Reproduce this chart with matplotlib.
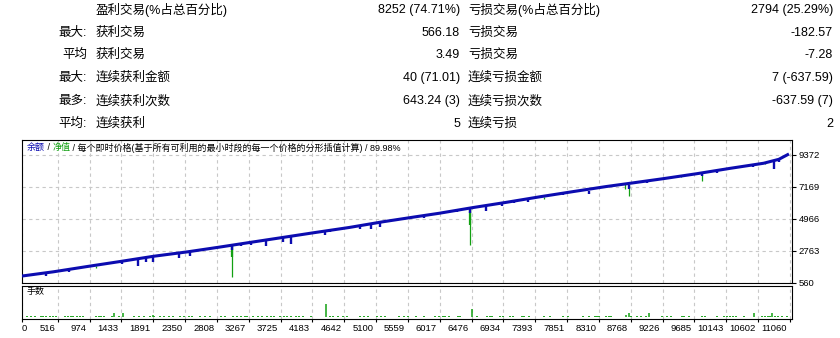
import matplotlib
matplotlib.use("Agg")
import matplotlib.pyplot as plt
import matplotlib.transforms as mtransforms

plt.rcParams['font.family'] = ['Liberation Sans', 'Noto Sans CJK SC']

BLUE = '#0c0cb0'
GREEN = '#12a012'
GRID = '#c8c8c8'

# summary table (one row per line)
row_labels = ["", "最大:", "平均", "最大:", "最多:", "平均:"]
win_names = ["盈利交易(%占总百分比)", "获利交易", "获利交易", "连续获利金额", "连续获利次数", "连续获利"]
win_values = ["8252 (74.71%)", "566.18", "3.49", "40 (71.01)", "643.24 (3)", "5"]
loss_names = ["亏损交易(%占总百分比)", "亏损交易", "亏损交易", "连续亏损金额", "连续亏损次数", "连续亏损"]
loss_values = ["2794 (25.29%)", "-182.57", "-7.28", "7 (-637.59)", "-637.59 (7)", "2"]

# balance curve (trade number, balance)
bal_trade = [0, 452, 934, 1415, 1896, 2378, 2845, 3268, 3750, 4231, 4712, 5194, 5660,
             6011, 6494, 6975, 7455, 7938, 8404, 8755, 9237, 9718, 10199, 10681, 10900, 11046]
bal_value = [1040, 1330, 1690, 2040, 2400, 2700, 3030, 3340, 3690, 4040, 4380, 4770, 5110,
             5360, 5750, 6110, 6490, 6850, 7190, 7420, 7740, 8080, 8450, 8800, 9070, 9440]

# balance drops
dip_trade = [347, 683, 1440, 1671, 1786, 1887, 2267, 2426, 3028, 3158, 3292, 3519, 3754,
             3870, 4365, 4433, 4654, 4866, 5025, 5151, 5266, 5786, 6267, 6455, 6686, 6917,
             7090, 7292, 7798, 8169, 8741, 8996, 9343, 9791, 10017, 10104, 10527, 10830, 10902]
dip_top = [1282, 1523, 2074, 2246, 2314, 2418, 2624, 2727, 3174, 3243, 3346, 3450, 3656,
           3794, 4138, 4206, 4378, 4550, 4688, 4826, 4894, 5204, 5582, 5700, 5892, 6064,
           6167, 6305, 6752, 6924, 7337, 7578, 7853, 8094, 8266, 8437, 8713, 8974, 9057]
dip_low = [1062, 1296, 1847, 1750, 1984, 1984, 2300, 2418, 2830, 3126, 3174, 3126, 3401,
           3222, 3842, 4069, 4254, 4254, 4254, 4433, 4736, 5011, 5424, 5396, 5534, 5858,
           6043, 6153, 6614, 6662, 7027, 7461, 7763, 7942, 8107, 8334, 8520, 8382, 8885]

# equity drawdown spikes
eq_trade = [1064, 2411, 3028, 6455, 7513, 8683, 8741, 9487, 9791, 10705]
eq_top = [1760, 2700, 3174, 5700, 6470, 7380, 7337, 7900, 8094, 8870]
eq_low = [1620, 2560, 993, 3174, 6340, 7027, 6566, 7832, 7598, 8727]
eq_wide_trade = [3028, 6455]
eq_wide_low = [2369, 4550]

# lots
base_lot = 0.01
base_trade = [67, 125, 188, 270, 308, 346, 404, 452, 491, 621, 659, 703, 741, 789, 837, 876,
              1068, 1102, 1136, 1174, 1295, 1391, 1608, 1680, 1762, 1848, 1906, 1993, 2050,
              2113, 2175, 2272, 2339, 2402, 2450, 2570, 2633, 2705, 2859, 2917, 3042, 3100,
              3157, 3205, 3244, 3330, 3398, 3460, 3523, 3581, 3629, 3716, 3773, 3822, 3879,
              3942, 3990, 4052, 4158, 4437, 4486, 4553, 4630, 4678, 4871, 4928, 4986, 5111,
              5169, 5232, 5434, 5496, 5554, 5675, 5796, 5955, 6012, 6060, 6099, 6157, 6277,
              6311, 6551, 6696, 6734, 6763, 6888, 6927, 7033, 7071, 7196, 7225, 7302, 7514,
              7610, 7793, 7865, 8082, 8169, 8255, 8284, 8313, 8409, 8448, 8481, 8775, 8852,
              8910, 8987, 9218, 9285, 9348, 9507, 9535, 9603, 9795, 9834, 10017, 10113, 10161,
              10200, 10238, 10286, 10402, 10662, 10700, 10739, 10768, 10845, 10893, 10951, 11018]
peak_trade = [1328, 1449, 1887, 4385, 6474, 8698, 8746, 9030, 10541, 10806]
peak_lot = [0.03, 0.03, 0.02, 0.10, 0.06, 0.02, 0.03, 0.03, 0.03, 0.03]

x_ticks = [0, 516, 974, 1433, 1891, 2350, 2808, 3267, 3725, 4183, 4642, 5100, 5559, 6017,
           6476, 6934, 7393, 7851, 8310, 8768, 9226, 9685, 10143, 10602, 11060]
y_ticks = [560, 2763, 4966, 7169, 9372]

W, H = 840, 338
fig = plt.figure(figsize=(W / 100, H / 100), dpi=100)

# summary table
row_y = [10, 33, 55, 78, 101, 124]
for i, y in enumerate(row_y):
    fy = 1 - y / H
    fig.text(87 / W, fy, row_labels[i], ha='right', va='center', fontsize=9)
    fig.text(96 / W, fy, win_names[i], ha='left', va='center', fontsize=9)
    fig.text(460 / W, fy, win_values[i], ha='right', va='center', fontsize=9)
    fig.text(468 / W, fy, loss_names[i], ha='left', va='center', fontsize=9)
    fig.text(833 / W, fy, loss_values[i], ha='right', va='center', fontsize=9)

ax = fig.add_axes([22 / W, 1 - 283 / H, 770 / W, 143 / H])
vax = fig.add_axes([22 / W, 1 - 318.5 / H, 770 / W, 32.5 / H])

# main panel
ax.vlines(eq_trade, eq_low, eq_top, color=GREEN, lw=0.9, zorder=3)
ax.vlines(eq_wide_trade, eq_wide_low, [dip_top[dip_trade.index(t)] for t in eq_wide_trade],
          color=GREEN, lw=1.6, zorder=3)
ax.vlines(dip_trade, dip_low, dip_top, color=BLUE, lw=1.7, zorder=4)
ax.plot(bal_trade, bal_value, color=BLUE, lw=2.2, zorder=5, solid_capstyle='butt')

ax.set_xlim(0, 11090)
ax.set_ylim(560, 10400)
ax.set_xticks(x_ticks)
ax.set_yticks(y_ticks)
ax.yaxis.tick_right()
ax.tick_params(axis='x', length=0, labelbottom=False)
ax.tick_params(axis='y', length=3, width=0.8, labelsize=6.8, pad=2)
ax.grid(True, color=GRID, ls=(0, (3, 3)), lw=0.8)
ax.set_axisbelow(True)
for s in ax.spines.values():
    s.set_linewidth(0.8)

# title pieces
t1 = ax.text(4.7 / 770, 1 - 7.7 / 143, "余额", color=BLUE, fontsize=6.5, va='center',
             transform=ax.transAxes)
t2 = ax.annotate(" / ", xycoords=t1, xy=(1, 0.5), va='center', fontsize=6.5)
t3 = ax.annotate("净值", xycoords=t2, xy=(1, 0.5), va='center', fontsize=6.5, color=GREEN)
ax.annotate(" / 每个即时价格(基于所有可利用的最小时段的每一个价格的分形插值计算) / 89.98%",
            xycoords=t3, xy=(1, 0.5), va='center', fontsize=6.5)

# lots panel
vax.vlines(base_trade, 0, base_lot, color=GREEN, lw=1.3)
vax.vlines(peak_trade, 0, peak_lot, color=GREEN, lw=1.1)
vax.set_xlim(0, 11090)
vax.set_ylim(-0.009, 0.238)
vax.set_yticks([])
vax.set_xticks(x_ticks)
vax.set_xticklabels([str(v) for v in x_ticks])
vax.tick_params(axis='x', length=2.5, width=0.8, labelsize=6.8, pad=1.5)
vax.grid(True, axis='x', color=GRID, ls=(0, (3, 3)), lw=0.8)
vax.set_axisbelow(True)
for s in vax.spines.values():
    s.set_linewidth(0.8)
vax.text(5 / 770, 1 - 5.5 / 32.5, "手数", fontsize=6.5, va='center', transform=vax.transAxes)

shift = mtransforms.ScaledTranslation(-2 / 72, 0, fig.dpi_scale_trans)
for i, lab in enumerate(vax.get_xticklabels()):
    if i == 0:
        lab.set_ha('left')
    else:
        lab.set_ha('right')
        lab.set_transform(lab.get_transform() + shift)

fig.savefig("out.png", dpi=100)
